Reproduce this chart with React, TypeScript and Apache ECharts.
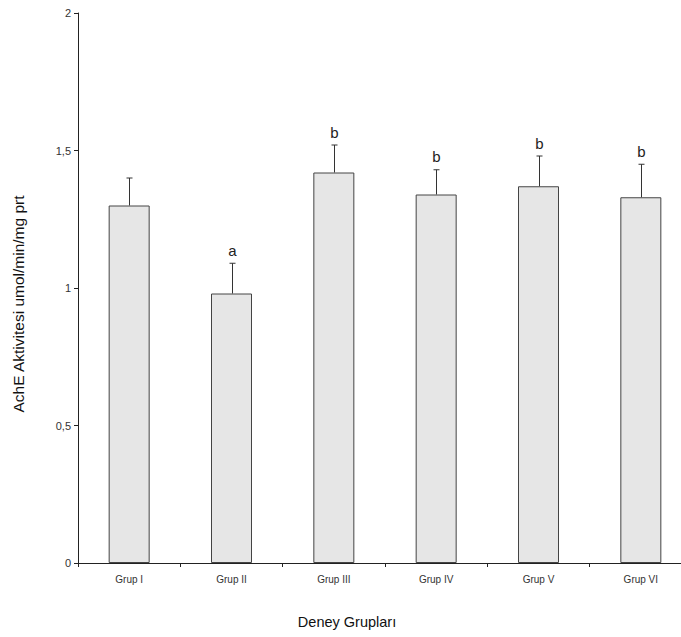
import React, { useEffect, useRef } from "react";
import * as echarts from "echarts";

const categories = ["Grup I", "Grup II", "Grup III", "Grup IV", "Grup V", "Grup VI"];
const means = [1.3, 0.98, 1.42, 1.34, 1.37, 1.33];
const errors = [0.1, 0.11, 0.1, 0.09, 0.11, 0.12];
const letters = ["", "a", "b", "b", "b", "b"];
const yTitle = "AchE Aktivitesi umol/min/mg prt";
const xTitle = "Deney Grupları";

const FONT = "'Liberation Sans', Arial, sans-serif";

export default function App() {
  const ref = useRef<HTMLDivElement>(null);
  useEffect(() => {
    if (!ref.current) return;
    const chart = echarts.init(ref.current, null, { renderer: "svg" });
    chart.setOption({
      animation: false,
      backgroundColor: "#ffffff",
      textStyle: { fontFamily: FONT },
      grid: {
        left: 78,
        top: 13,
        width: 614,
        height: 550,
        containLabel: false,
        outerBoundsMode: "none",
      },
      xAxis: {
        type: "category",
        data: categories,
        boundaryGap: true,
        axisLine: { lineStyle: { color: "#222", width: 1 } },
        axisTick: { show: true, length: 4, alignWithLabel: false, lineStyle: { color: "#222" } },
        axisLabel: { fontSize: 10, color: "#333", margin: 11, fontFamily: FONT },
        splitLine: { show: false },
      },
      yAxis: {
        type: "value",
        min: 0,
        max: 2,
        interval: 0.5,
        axisLine: { show: true, lineStyle: { color: "#222", width: 1 } },
        axisTick: { show: true, length: 4, lineStyle: { color: "#222" } },
        axisLabel: {
          fontSize: 11,
          color: "#333",
          margin: 7,
          fontFamily: FONT,
          formatter: (v: number) => String(v).replace(".", ","),
        },
        splitLine: { show: false },
      },
      graphic: [
        {
          type: "text",
          x: 10,
          y: 304,
          rotation: Math.PI / 2,
          style: {
            text: yTitle,
            fontSize: 15.5,
            fontFamily: FONT,
            fill: "#111",
            align: "center",
            verticalAlign: "top",
          },
        },
        {
          type: "text",
          x: 347,
          y: 622,
          style: {
            text: xTitle,
            fontSize: 14.5,
            fontFamily: FONT,
            fill: "#111",
            align: "center",
            verticalAlign: "middle",
          },
        },
      ],
      series: [
        {
          type: "bar",
          data: means,
          barWidth: 41,
          itemStyle: { color: "#e6e6e6", borderColor: "#444", borderWidth: 1 },
          z: 2,
        },
        {
          type: "custom",
          z: 3,
          data: categories.map((c, i) => [i, means[i], errors[i], i]),
          renderItem: (params: any, api: any) => {
            const idx = api.value(0);
            const m = api.value(1);
            const e = api.value(2);
            const i = api.value(3);
            const base = api.coord([idx, m]);
            const top = api.coord([idx, m + e]);
            const x = Math.round(base[0]) + 0.5;
            const children: any[] = [
              {
                type: "line",
                shape: { x1: x, y1: base[1], x2: x, y2: top[1] },
                style: { stroke: "#333", lineWidth: 1 },
              },
              {
                type: "line",
                shape: { x1: x - 3, y1: top[1], x2: x + 3, y2: top[1] },
                style: { stroke: "#333", lineWidth: 1 },
              },
            ];
            const letter = letters[i];
            if (letter) {
              children.push({
                type: "text",
                x: x,
                y: top[1] - 13,
                style: {
                  text: letter,
                  fontSize: 15,
                  fontFamily: FONT,
                  fill: "#222",
                  align: "center",
                  verticalAlign: "middle",
                },
              });
            }
            return { type: "group", children };
          },
        },
      ],
    });
    return () => chart.dispose();
  }, []);
  return (
    <div
      ref={ref}
      style={{ position: "absolute", left: 0, top: 0, width: 681, height: 637 }}
    />
  );
}
